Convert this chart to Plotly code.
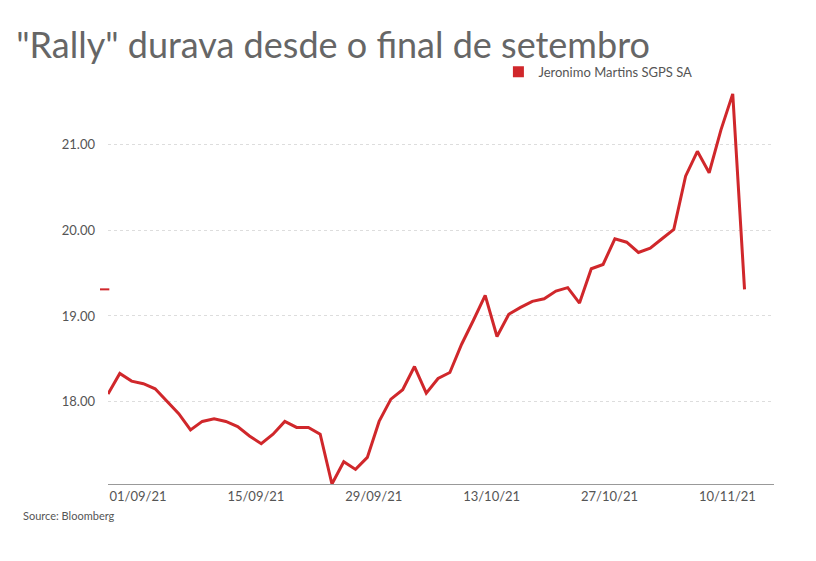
import plotly.graph_objects as go
import pandas as pd

dates = [d.strftime("%Y-%m-%d") for d in pd.bdate_range("2021-09-01", periods=55)]
values = [18.09, 18.33, 18.24, 18.21, 18.15, 18.01, 17.86, 17.67, 17.77, 17.80,
          17.77, 17.71, 17.60, 17.51, 17.62, 17.77, 17.70, 17.70, 17.62, 17.04,
          17.30, 17.21, 17.35, 17.77, 18.03, 18.14, 18.41, 18.10, 18.27, 18.34,
          18.67, 18.95, 19.24, 18.76, 19.02, 19.10, 19.17, 19.20, 19.29, 19.33,
          19.15, 19.55, 19.60, 19.90, 19.86, 19.74, 19.79, 19.90, 20.01, 20.63,
          20.92, 20.67, 21.17, 21.59, 19.31]
tick_idx = [0, 10, 20, 30, 40, 50]
tick_text = ["01/09/21", "15/09/21", "29/09/21", "13/10/21", "27/10/21", "10/11/21"]
y_ticks = [18, 19, 20, 21]
y_text = ["18.00", "19.00", "20.00", "21.00"]
series_name = "Jeronimo Martins SGPS SA"
red = "#d0272b"

fig = go.Figure(go.Scatter(x=list(range(len(values))), y=values, mode="lines",
                           line=dict(color=red, width=3), name=series_name, showlegend=False))
fig.add_trace(go.Scatter(x=[None], y=[None], mode="markers",
                         marker=dict(symbol="square", size=11, color=red),
                         name=series_name, showlegend=True))
fig.add_shape(type="line", xref="paper", yref="y", x0=-0.012, x1=0.002,
              y0=values[-1], y1=values[-1], line=dict(color=red, width=2))
fig.update_layout(
    width=816, height=561, plot_bgcolor="white", paper_bgcolor="white",
    font=dict(family="Lato", color="#555"),
    title=dict(text='"Rally" durava desde o final de setembro', x=0.01, y=0.955,
               xanchor="left", font=dict(size=36, color="#666")),
    margin=dict(l=100, r=50, t=73, b=85),
    legend=dict(x=0.885, y=1.06, xanchor="right", yanchor="top", font=dict(size=13, color="#555")),
    xaxis=dict(tickvals=tick_idx, ticktext=tick_text, range=[0, 56.5], showgrid=False,
               showline=True, linecolor="#999", ticks="", tickfont=dict(size=13),
               zeroline=False, ticklabelshift=30),
    yaxis=dict(tickvals=y_ticks, ticktext=y_text, range=[17.04, 21.74],
               showgrid=True, gridcolor="#ddd", griddash="dot", zeroline=False,
               tickfont=dict(size=13), ticklabelstandoff=12),
    annotations=[dict(text="Source: Bloomberg", xref="paper", yref="paper", x=-0.13, y=-0.1,
                      xanchor="left", showarrow=False, font=dict(size=11, color="#555"))],
)
fig.write_html("out.html")
